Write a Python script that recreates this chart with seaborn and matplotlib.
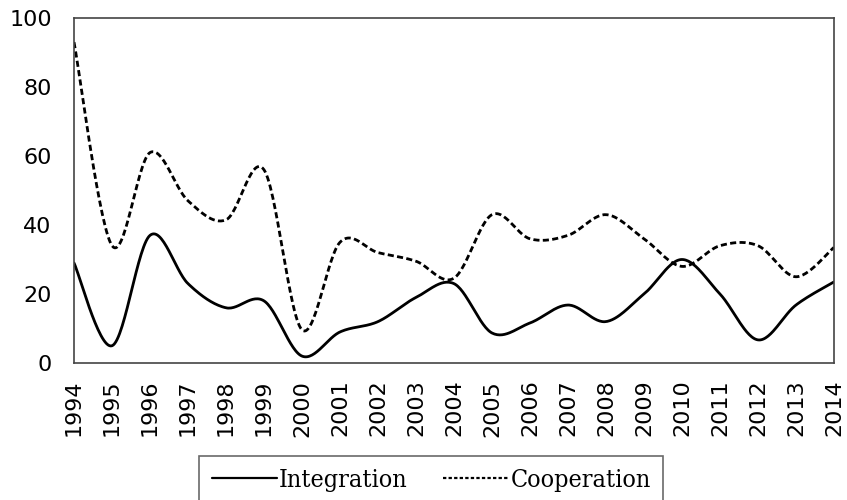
import matplotlib
matplotlib.use("Agg")
import matplotlib.pyplot as plt
from matplotlib.lines import Line2D
import numpy as np
import pandas as pd
import seaborn as sns

years = list(range(1994, 2015))
integration = [29, 5, 37, 23, 16, 18, 2, 9, 12, 19, 23, 8.7, 11.6, 16.8, 12, 20, 30, 20, 6.7, 16.8, 23.5]
cooperation = [93, 34, 61, 47, 41.5, 56, 9.6, 35, 32, 29.5, 24.6, 43, 36, 37, 43, 36, 28, 34, 34, 25, 33.5]


def smooth(xs, ys, n=30):
    # Excel-style smoothed line: cubic Bezier between points
    xs = np.asarray(xs, float)
    ys = np.asarray(ys, float)
    px = np.concatenate([[xs[0]], xs, [xs[-1]]])
    py = np.concatenate([[ys[0]], ys, [ys[-1]]])
    out_x, out_y = [], []
    t = np.linspace(0, 1, n, endpoint=False)
    for i in range(1, len(px) - 2):
        p0 = np.array([px[i], py[i]])
        p3 = np.array([px[i + 1], py[i + 1]])
        c1 = p0 + (p3 - np.array([px[i - 1], py[i - 1]])) / 6
        c2 = p3 - (np.array([px[i + 2], py[i + 2]]) - p0) / 6
        b = ((1 - t) ** 3)[:, None] * p0 + (3 * (1 - t) ** 2 * t)[:, None] * c1 \
            + (3 * (1 - t) * t ** 2)[:, None] * c2 + (t ** 3)[:, None] * p3
        out_x.extend(b[:, 0])
        out_y.extend(b[:, 1])
    out_x.append(xs[-1])
    out_y.append(ys[-1])
    return np.array(out_x), np.array(out_y)


sns.set_style("white")
plt.rcParams["font.family"] = ["DejaVu Sans"]

fig = plt.figure(figsize=(8.47, 5.0), dpi=100)
ax = fig.add_axes([0.0874, 0.274, 0.8972, 0.69])

ix, iy = smooth(years, integration)
cx, cy = smooth(years, cooperation)
df_i = pd.DataFrame({"Year": ix, "Value": iy})
df_c = pd.DataFrame({"Year": cx, "Value": cy})

sns.lineplot(data=df_i, x="Year", y="Value", ax=ax, color="black", lw=2.0,
             sort=False, legend=False)
sns.lineplot(data=df_c, x="Year", y="Value", ax=ax, color="black", lw=2.0,
             sort=False, legend=False)
ax.lines[1].set_dashes((2.2, 1.2))

ax.set_xlim(1994, 2014)
ax.set_ylim(0, 100)
ax.set_xticks(years)
ax.set_xticklabels([str(y) for y in years], rotation=90, fontsize=16, color="black")
ax.set_yticks(range(0, 101, 20))
ax.set_yticklabels([str(v) for v in range(0, 101, 20)], fontsize=16, color="black")
ax.tick_params(axis="x", length=0, pad=12)
ax.tick_params(axis="y", length=0, pad=16)
ax.set_xlabel("")
ax.set_ylabel("")
for s in ax.spines.values():
    s.set_color("#444444")
    s.set_linewidth(1.2)

handles = [
    Line2D([], [], color="black", lw=1.6),
    Line2D([], [], color="black", lw=1.6, dashes=(1.5, 1.0)),
]
labels = ["Integration", "Cooperation"]
leg = fig.legend(handles, labels, loc="upper center", bbox_to_anchor=(0.509, 0.088),
                 ncol=2, frameon=True, fancybox=False, edgecolor="#444444",
                 prop={"family": "DejaVu Serif", "stretch": "condensed", "size": 18},
                 handlelength=2.6, handletextpad=0.1, columnspacing=1.4,
                 borderpad=0.5, borderaxespad=0, labelcolor="black")
leg.get_frame().set_linewidth(1.2)

fig.savefig("out.png", dpi=100)
